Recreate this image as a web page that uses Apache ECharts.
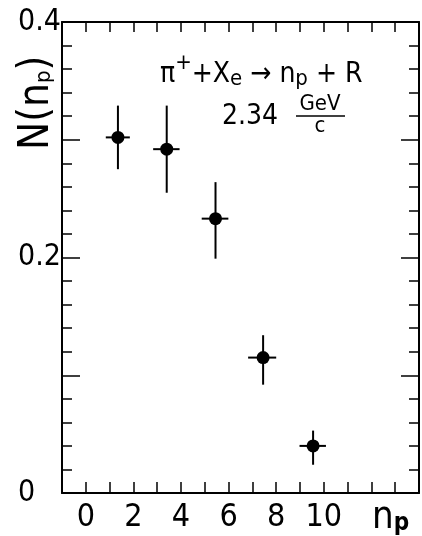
<!DOCTYPE html>
<html>
<head>
<meta charset="utf-8">
<script src="https://cdn.jsdelivr.net/npm/echarts@6/dist/echarts.min.js"></script>
<style>
html,body{margin:0;padding:0;background:#fff;}
#chart{width:422px;height:536px;}
</style>
</head>
<body>
<div id="chart"></div>
<script>
// ---- data ----
const npCenters = [1.35, 3.4, 5.45, 7.45, 9.55];
const npLow     = [0.84, 2.83, 4.87, 6.82, 8.98];
const npHigh    = [1.85, 3.94, 5.99, 8.00, 10.09];
const nValues   = [0.302, 0.292, 0.233, 0.115, 0.040];
const nLow      = [0.275, 0.255, 0.199, 0.092, 0.024];
const nHigh     = [0.329, 0.329, 0.264, 0.134, 0.053];
const xTickLabels = [0, 2, 4, 6, 8, 10];
const yTickLabels = { '0': '0', '0.2': '0.2', '0.4': '0.4' };

const FONT = '"Liberation Sans Narrow", "DejaVu Sans Condensed", "Liberation Sans", sans-serif';

const points = npCenters.map((x, i) => [x, nValues[i], npLow[i], npHigh[i], nLow[i], nHigh[i]]);

const chart = echarts.init(document.getElementById('chart'), null, { renderer: 'canvas' });

const barStyle = { stroke: '#000', lineWidth: 2 };

const option = {
  animation: false,
  backgroundColor: '#fff',
  grid: { left: 62, right: 1, top: 22, bottom: 43, containLabel: false },
  xAxis: [
    {
      type: 'value', position: 'bottom', min: -1, max: 14, interval: 1,
      axisLine: { show: true, onZero: false, lineStyle: { color: '#000', width: 2 } },
      axisTick: { show: true, inside: true, length: 11, lineStyle: { color: '#000', width: 1.5 } },
      axisLabel: {
        show: true, margin: 9, color: '#000', fontFamily: FONT, fontSize: 32,
        formatter: function (v) { return xTickLabels.indexOf(Math.round(v)) >= 0 && Math.abs(v - Math.round(v)) < 1e-6 ? String(Math.round(v)) : ''; }
      },
      splitLine: { show: false }
    },
    {
      type: 'value', position: 'top', min: -1, max: 14, interval: 1,
      axisLine: { show: true, onZero: false, lineStyle: { color: '#000', width: 2 } },
      axisTick: { show: true, inside: true, length: 10, lineStyle: { color: '#000', width: 1.5 } },
      axisLabel: { show: false },
      splitLine: { show: false }
    }
  ],
  yAxis: [
    {
      type: 'value', position: 'left', min: 0, max: 0.4, interval: 0.1,
      axisLine: { show: true, onZero: false, lineStyle: { color: '#000', width: 2 } },
      axisTick: { show: true, inside: true, length: 18, lineStyle: { color: '#000', width: 1.5 } },
      minorTick: { show: true, splitNumber: 5, length: 10, lineStyle: { color: '#000', width: 1.5 } },
      axisLabel: {
        show: true, margin: 44, align: 'left', color: '#000', fontFamily: FONT, fontSize: 30,
        formatter: function (v) { const k = (Math.round(v * 10) / 10).toString(); return yTickLabels[k] || ''; }
      },
      splitLine: { show: false }, minorSplitLine: { show: false }
    },
    {
      type: 'value', position: 'right', min: 0, max: 0.4, interval: 0.1,
      axisLine: { show: true, onZero: false, lineStyle: { color: '#000', width: 2 } },
      axisTick: { show: true, inside: true, length: 18, lineStyle: { color: '#000', width: 1.5 } },
      minorTick: { show: true, splitNumber: 5, length: 10, lineStyle: { color: '#000', width: 1.5 } },
      axisLabel: { show: false },
      splitLine: { show: false }, minorSplitLine: { show: false }
    }
  ],
  series: [
    {
      type: 'custom',
      xAxisIndex: 0, yAxisIndex: 0,
      data: points,
      renderItem: function (params, api) {
        const c = api.coord([api.value(0), api.value(1)]);
        const xl = api.coord([api.value(2), api.value(1)]);
        const xh = api.coord([api.value(3), api.value(1)]);
        const yl = api.coord([api.value(0), api.value(4)]);
        const yh = api.coord([api.value(0), api.value(5)]);
        return {
          type: 'group',
          children: [
            { type: 'line', shape: { x1: xl[0], y1: xl[1], x2: xh[0], y2: xh[1] }, style: barStyle },
            { type: 'line', shape: { x1: yl[0], y1: yl[1], x2: yh[0], y2: yh[1] }, style: barStyle },
            { type: 'circle', shape: { cx: c[0], cy: c[1], r: 6.5 }, style: { fill: '#000' } }
          ]
        };
      }
    }
  ],
  graphic: [
    // y axis title N(n_p)
    {
      type: 'text', x: 16, y: 150, rotation: Math.PI / 2,
      style: {
        text: 'N(n{s|p})', fill: '#000', font: '42px ' + FONT,
        rich: { s: { fontSize: 22, fontFamily: FONT, padding: [14, 0, 0, 0] } },
        verticalAlign: 'top', align: 'left'
      }
    },
    // x axis title n_p
    {
      type: 'text', x: 372, y: 499,
      style: {
        text: 'n{s|p}', fill: '#000', font: '38px ' + FONT,
        rich: { s: { fontSize: 24, fontWeight: 'bold', fontFamily: FONT, padding: [12, 0, 0, 0] } },
        verticalAlign: 'top', align: 'left'
      }
    },
    // reaction
    {
      type: 'text', x: 160, y: 52,
      style: {
        text: 'π{sup|+}+X{sub|e} → n{sub|p} + R', fill: '#000', font: '28px ' + FONT,
        rich: {
          sup: { fontSize: 22, fontFamily: FONT, padding: [0, 0, 24, 0] },
          sub: { fontSize: 22, fontFamily: FONT, padding: [8, 0, 0, 0] }
        },
        verticalAlign: 'top', align: 'left'
      }
    },
    // energy
    {
      type: 'text', x: 222, y: 103,
      style: { text: '2.34', fill: '#000', font: '28px ' + FONT, verticalAlign: 'top', align: 'left' }
    },
    {
      type: 'text', x: 320, y: 93,
      style: { text: 'GeV', fill: '#000', font: '22px ' + FONT, verticalAlign: 'top', align: 'center' }
    },
    {
      type: 'line', shape: { x1: 296, y1: 116, x2: 345, y2: 116 }, style: { stroke: '#000', lineWidth: 1.5 }
    },
    {
      type: 'text', x: 320, y: 115,
      style: { text: 'c', fill: '#000', font: '22px ' + FONT, verticalAlign: 'top', align: 'center' }
    }
  ]
};

chart.setOption(option);
</script>
</body>
</html>
